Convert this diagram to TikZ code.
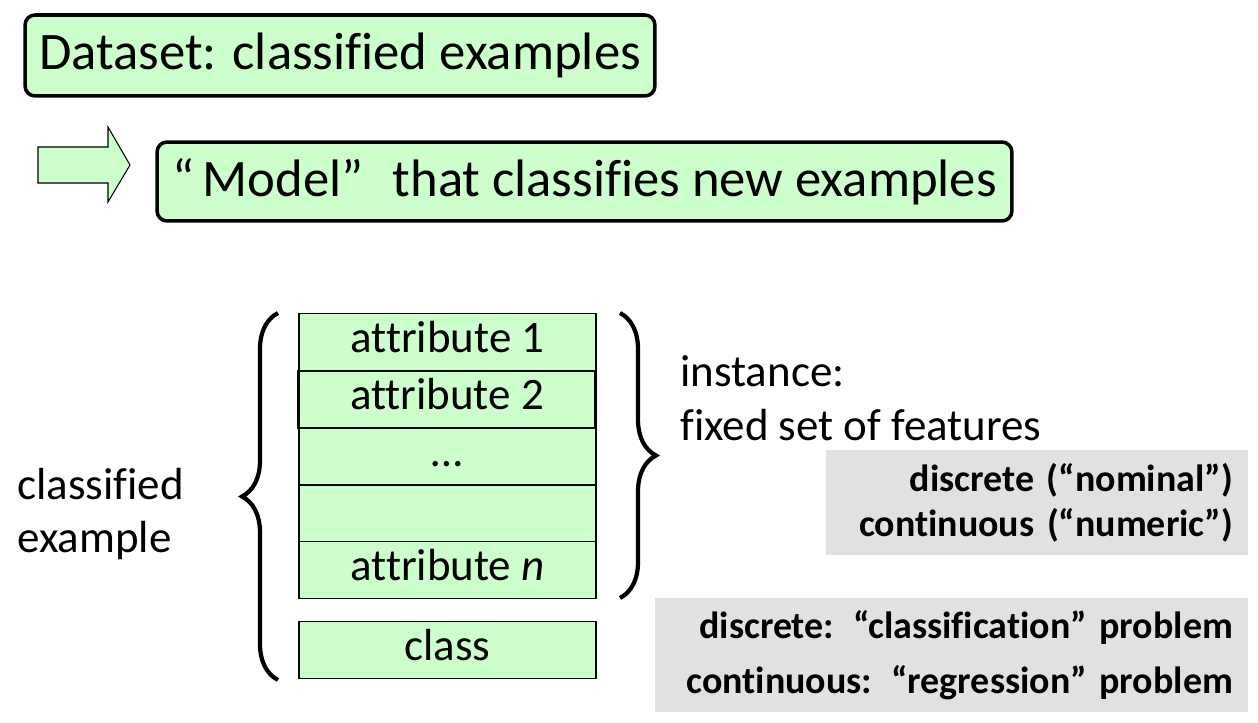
\documentclass[tikz,border=0pt]{standalone}
\usepackage{fontspec}
\setmainfont{Carlito}[Ligatures=NoCommon]
\usetikzlibrary{decorations.pathreplacing}
\definecolor{paleGreen}{HTML}{CCFFCC}
\definecolor{paleGray}{HTML}{E1E1E1}
\tikzset{
  titlebox/.style={draw, rounded corners=0.2cm, line width=2pt, fill=paleGreen,
    inner sep=0pt, font=\fontsize{30}{36}\selectfont},
  attrbox/.style={draw, line width=0.8pt, fill=paleGreen, minimum width=5.94cm,
    minimum height=1.14cm, inner sep=0pt, text height=18pt, text depth=6.6pt,
    font=\fontsize{25.6}{30.7}\selectfont},
  plain/.style={inner sep=0pt, align=left, font=\fontsize{25.6}{30.7}\selectfont},
  graybox/.style={fill=paleGray, inner ysep=0pt, inner xsep=0.3cm, align=right,
    font=\bfseries\fontsize{21.6}{25.6}\selectfont},
  curly/.style={decorate, decoration={brace, amplitude=0.72cm}, line width=2.4pt}
}
\begin{document}
\begin{tikzpicture}[x=0.02cm, y=-0.02cm]
  \useasboundingbox (0,0) rectangle (1258,723);
  % headline boxes
  \node[titlebox, minimum width=12.6cm, minimum height=1.62cm] (data) at (340,55.5)
    {Dataset: classified examples};
  \node[titlebox, minimum width=17.1cm, minimum height=1.58cm] (model) at (584.5,181.5)
    {“\,Model”\hspace{0.55em}that classifies new examples};
  \draw[fill=paleGreen, line width=0.6pt]
    (38,147) -- (108,147) -- (108,127) -- (130,165) -- (108,202) -- (108,183) -- (38,183) -- cycle;
  % one example
  \node[attrbox] (a1) at (447.5,342) {attribute 1};
  \node[attrbox, line width=1.2pt] (a2) at (447,399.5) {attribute 2};
  \node[attrbox] (dots) at (447.5,456.5) {\dots};
  \node[attrbox] (blank) at (447.5,513.5) {};
  \node[attrbox] (an) at (447.5,570) {attribute \textit{n}};
  \node[attrbox] (cls) at (447.5,650) {class};
  \coordinate (lb) at (278,680);
  \coordinate (lt) at (278,313);
  \coordinate (rt) at (620,313);
  \coordinate (rb) at (620,598);
  \draw[curly] (lb) -- (lt);
  \draw[curly] (rt) -- (rb);
  \node[plain, anchor=west] (ex) at (17,514) {classified\\example};
  \node[plain, anchor=west] (inst) at (680,398) {instance:\\fixed set of features};
  % value types
  \node[graybox, text width=7.84cm, minimum height=2.1cm] (feat) at (1037,502.5)
    {discrete (“nominal”)\\continuous (“numeric”)};
  \node[graybox, text width=11.26cm, minimum height=2.28cm,
    font=\bfseries\fontsize{21.6}{31.3}\selectfont] (prob) at (951.5,655)
    {discrete: “classification” problem\\continuous: “regression” problem};
\end{tikzpicture}
\end{document}
